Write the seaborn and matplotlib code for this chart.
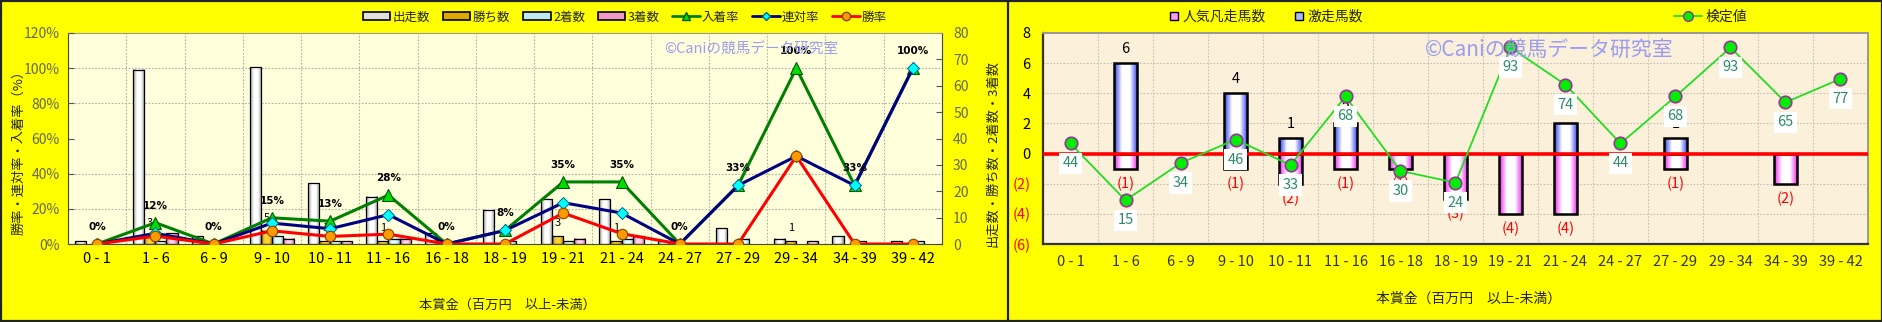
import numpy as np
import pandas as pd
import matplotlib
matplotlib.use("Agg")
import matplotlib.pyplot as plt
import seaborn as sns
from matplotlib.colors import LinearSegmentedColormap
from matplotlib.patches import Patch, Rectangle
from matplotlib.lines import Line2D

# ---------------- data ----------------
categories = ["0 - 1", "1 - 6", "6 - 9", "9 - 10", "10 - 11", "11 - 16", "16 - 18",
              "18 - 19", "19 - 21", "21 - 24", "24 - 27", "27 - 29", "29 - 34",
              "34 - 39", "39 - 42"]
starts = [1, 66, 3, 67, 23, 18, 4, 13, 17, 17, 1, 6, 2, 3, 1]
wins = [0, 3, 0, 5, 1, 1, 0, 0, 3, 1, 0, 0, 1, 0, 0]
seconds = [0, 1, 0, 3, 1, 2, 0, 1, 1, 2, 0, 2, 0, 1, 1]
thirds = [0, 4, 0, 2, 1, 2, 0, 0, 2, 3, 0, 0, 1, 0, 0]
win_rate = [0, 4.5, 0, 7.5, 4.3, 5.6, 0, 0, 17.6, 5.9, 0, 0, 50, 0, 0]
quinella_rate = [0, 6.1, 0, 11.9, 8.7, 16.7, 0, 7.7, 23.5, 17.6, 0, 33.3, 50, 33.3, 100]
place_rate = [0, 12.1, 0, 14.9, 13.0, 27.8, 0, 7.7, 35.3, 35.3, 0, 33.3, 100, 33.3, 100]

surge_count = [0, 6, 0, 4, 1, 2, 0, 0, 0, 2, 0, 1, 0, 0, 0]
flop_count = [0, -1, 0, -1, -2, -1, -1, -3, -4, -4, 0, -1, 0, -2, 0]
test_value = [44, 15, 34, 46, 33, 68, 30, 24, 93, 74, 44, 68, 93, 65, 77]

series_names = ["出走数", "勝ち数", "2着数", "3着数"]
left_y_ticks = [0, 20, 40, 60, 80, 100, 120]
right_y_ticks = [0, 10, 20, 30, 40, 50, 60, 70, 80]
right_chart_ticks = [-6, -4, -2, 0, 2, 4, 6, 8]

# ---------------- style ----------------
sns.set_style("white")
plt.rcParams["font.family"] = ["Noto Sans CJK JP", "DejaVu Sans"]

W, H = 1883, 322
fig = plt.figure(figsize=(W / 100, H / 100), dpi=100)
fig.patch.set_facecolor("#FFFF00")
fig.patches.append(Rectangle((0.8 / W, 1.2 / H), (W - 2) / W, (H - 2.6) / H,
                             transform=fig.transFigure, fill=False,
                             edgecolor="#222222", lw=1.6))
fig.add_artist(Line2D([1008 / W, 1008 / W], [0, 1], transform=fig.transFigure,
                      color="#222222", lw=1.6))

bar_cols = {"出走数": ("#9a9a9a", "#ffffff"),
            "勝ち数": ("#a87800", "#ffd23a"),
            "2着数": ("#7fc4d4", "#eaffff"),
            "3着数": ("#d0609a", "#ffd6ec")}
legend_cols = {"出走数": "#e0e0e0", "勝ち数": "#e0a800",
               "2着数": "#bfe8f0", "3着数": "#ee99c8"}


def gradient_bars(ax, container, edge, center, lw):
    cmap = LinearSegmentedColormap.from_list("g", [edge, center, center, edge])
    grad = np.linspace(0, 1, 64).reshape(1, -1)
    for p in container.patches:
        h = p.get_height()
        if abs(h) < 1e-9:
            p.set_visible(False)
            continue
        x, y, w = p.get_x(), p.get_y(), p.get_width()
        ax.imshow(grad, cmap=cmap, extent=(x, x + w, min(y, y + h), max(y, y + h)),
                  aspect="auto", interpolation="bilinear", zorder=p.get_zorder() - 0.01)
        p.set_facecolor("none")
        p.set_edgecolor("black")
        p.set_linewidth(lw)


# ================= LEFT CHART =================
axL = fig.add_axes([68 / W, 1 - 244 / H, (942 - 68) / W, (244 - 33) / H])
axL.set_facecolor("#FFFFDC")
df = pd.DataFrame({
    "cat": categories * 4,
    "series": sum([[s] * len(categories) for s in series_names], []),
    "value": starts + wins + seconds + thirds,
})
sns.barplot(data=df, x="cat", y="value", hue="series", order=categories,
            hue_order=series_names, palette={k: v[1] for k, v in bar_cols.items()},
            width=0.76, edgecolor="black", linewidth=0.9, errorbar=None,
            legend=False, ax=axL)
for cont, name in zip(axL.containers, series_names):
    gradient_bars(axL, cont, bar_cols[name][0], bar_cols[name][1], 0.9)
    if name == "勝ち数":
        for p, v in zip(cont.patches, wins):
            if v > 0:
                axL.annotate(str(v), (p.get_x() + p.get_width() / 2, v),
                             xytext=(0, 13), textcoords="offset pixels",
                             ha="center", va="center", fontsize=8, color="black")

axL.set_xlim(-0.5, len(categories) - 0.5)
axL.set_ylim(0, 80)

ax2 = axL.twinx()
xpos = np.arange(len(categories))
sns.lineplot(x=xpos, y=place_rate, ax=ax2, color="#008000", lw=2.2, marker="^",
             markersize=9, markerfacecolor="#00DD00", markeredgecolor="#005500",
             markeredgewidth=0.8)
sns.lineplot(x=xpos, y=quinella_rate, ax=ax2, color="#000080", lw=2.2, marker="D",
             markersize=6, markerfacecolor="#00FFFF", markeredgecolor="#006688",
             markeredgewidth=0.7)
sns.lineplot(x=xpos, y=win_rate, ax=ax2, color="#FF0000", lw=2.2, marker="o",
             markersize=7.5, markerfacecolor="#FF9900", markeredgecolor="#884400",
             markeredgewidth=0.8)
for i, v in enumerate(place_rate):
    ax2.annotate(f"{round(v)}%", (i, v), xytext=(0, 17), textcoords="offset pixels",
                 ha="center", va="center", fontsize=7.5, fontweight="bold",
                 color="black", family=["DejaVu Sans"])
ax2.set_ylim(0, 120)
ax2.set_xlim(-0.5, len(categories) - 0.5)

# axes sides
ax2.yaxis.tick_left()
ax2.yaxis.set_label_position("left")
axL.yaxis.tick_right()
axL.yaxis.set_label_position("right")
ax2.set_yticks(left_y_ticks)
ax2.set_yticklabels([f"{t}%" for t in left_y_ticks])
axL.set_yticks(right_y_ticks)
ax2.tick_params(axis="y", labelsize=10, labelcolor="#666655", direction="in",
                length=4, color="#555555", pad=6)
axL.tick_params(axis="y", labelsize=10, labelcolor="#666655", direction="in",
                length=4, color="#555555", pad=8)
axL.set_xticks(xpos)
axL.set_xticklabels(categories)
axL.tick_params(axis="x", labelsize=10.5, length=0, pad=6, labelcolor="black")
axL.set_xlabel("")
ax2.set_xlabel("")
ax2.set_ylabel("勝率・連対率・入着率（%）", fontsize=9.5)
ax2.yaxis.set_label_coords((25 - 68) / 874, 0.45)
axL.set_ylabel("出走数・勝ち数・2着数・3着数", fontsize=9.5)
axL.yaxis.set_label_coords((986 - 68) / 874, 0.43)

# grid (behind bars)
axL.set_xticks(np.arange(-0.5, len(categories), 1), minor=True)
axL.set_yticks([t * 80 / 120 for t in left_y_ticks[1:-1]], minor=True)
axL.tick_params(which="minor", length=0)
axL.grid(which="minor", color="#B0B0A0", linestyle=(0, (1.5, 1.5)), lw=0.8)
axL.grid(which="major", visible=False)
axL.set_axisbelow(True)
for s in ["left", "bottom", "right"]:
    axL.spines[s].set_color("#444444")
axL.spines["top"].set_color("#999999")
for s in ax2.spines.values():
    s.set_visible(False)

fig.text(507 / W, 1 - 305 / H, "本賞金（百万円　以上-未満）", ha="center", va="center",
         fontsize=9.5)
fig.text(751 / W, 1 - 50 / H, "©Caniの競馬データ研究室", ha="center", va="center",
         fontsize=10.5, color="#9C9CF0")

hL = [Patch(facecolor=legend_cols[n], edgecolor="black", lw=1.2) for n in series_names]
hL += [
    Line2D([], [], color="#008000", lw=2, marker="^", markersize=6,
           markerfacecolor="#00DD00", markeredgecolor="#005500"),
    Line2D([], [], color="#000080", lw=2, marker="D", markersize=4.5,
           markerfacecolor="#00FFFF", markeredgecolor="#006688"),
    Line2D([], [], color="#FF0000", lw=2, marker="o", markersize=6,
           markerfacecolor="#FF9900", markeredgecolor="#884400"),
]
fig.legend(handles=hL, labels=series_names + ["入着率", "連対率", "勝率"],
           loc="center left", bbox_to_anchor=(363 / W, 1 - 17 / H), ncol=7,
           frameon=False, fontsize=9, handlelength=2.2, handleheight=0.55,
           handletextpad=0.2, columnspacing=1.0, borderpad=0, borderaxespad=0)

# ================= RIGHT CHART =================
axR = fig.add_axes([1043 / W, 1 - 244 / H, (1868 - 1043) / W, (244 - 33) / H])
axR.set_facecolor("#FBF0DA")
sns.barplot(x=categories, y=surge_count, ax=axR, color="#aab0ff", width=0.42,
            edgecolor="black", linewidth=1.8, errorbar=None)
sns.barplot(x=categories, y=flop_count, ax=axR, color="#ffaaff", width=0.42,
            edgecolor="black", linewidth=1.8, errorbar=None)
gradient_bars(axR, axR.containers[0], "#2a3cf0", "#ffffff", 1.8)
gradient_bars(axR, axR.containers[1], "#f020f0", "#ffffff", 1.8)
for i, v in enumerate(surge_count):
    if v > 0:
        axR.annotate(str(v), (i, v), xytext=(0, 14), textcoords="offset pixels",
                     ha="center", va="center", fontsize=10.5, color="black")
for i, v in enumerate(flop_count):
    if v < 0:
        axR.annotate(f"({-v})", (i, v), xytext=(0, -15), textcoords="offset pixels",
                     ha="center", va="center", fontsize=10.5, color="#FF0000")
axR.axhline(0, color="#FF0000", lw=2.6, zorder=3)
axR.set_xlim(-0.5, len(categories) - 0.5)
axR.set_ylim(-6, 8)
axR.set_yticks(right_chart_ticks)
axR.set_yticklabels([str(t) if t >= 0 else f"({-t})" for t in right_chart_ticks])
for lab, t in zip(axR.get_yticklabels(), right_chart_ticks):
    lab.set_color("#FF0000" if t < 0 else "black")
axR.tick_params(axis="y", labelsize=10.5, length=0, pad=9)
axR.set_xticks(xpos)
axR.set_xticklabels(categories)
axR.tick_params(axis="x", labelsize=10.5, length=0, pad=8, labelcolor="#333333")
axR.set_xlabel("")
axR.set_ylabel("")
axR.set_xticks(np.arange(-0.5, len(categories), 1), minor=True)
axR.tick_params(which="minor", length=0)
axR.grid(which="minor", axis="x", color="#C8C0B0", linestyle=(0, (1.5, 1.5)), lw=0.8)
axR.grid(which="major", axis="y", color="#C8C0B0", linestyle=(0, (1.5, 1.5)), lw=0.8)
axR.grid(which="major", axis="x", visible=False)
axR.set_axisbelow(True)
axR.spines["left"].set_color("#333333")
axR.spines["bottom"].set_color("#333333")
axR.spines["left"].set_linewidth(1.6)
axR.spines["bottom"].set_linewidth(1.6)
axR.spines["top"].set_color("#999999")
axR.spines["right"].set_color("#999999")
axR.spines["top"].set_linewidth(1.4)
axR.spines["right"].set_linewidth(1.4)

ax3 = axR.twinx()
sns.lineplot(x=xpos, y=test_value, ax=ax3, color="#22DD22", lw=1.3, marker="o",
             markersize=9, markerfacecolor="#00EE00", markeredgecolor="#993399",
             markeredgewidth=1.2)
for i, v in enumerate(test_value):
    ax3.annotate(str(v), (i, v), xytext=(0, -20), textcoords="offset pixels",
                 ha="center", va="center", fontsize=10.5, color="#2E8B66",
                 bbox=dict(boxstyle="square,pad=0.25", fc="white", ec="none"))
ax3.set_ylim(-7.3, 100.4)
ax3.set_xlim(-0.5, len(categories) - 0.5)
ax3.set_yticks([])
ax3.set_ylabel("")
for s in ax3.spines.values():
    s.set_visible(False)

fig.text(1469 / W, 1 - 299 / H, "本賞金（百万円　以上-未満）", ha="center", va="center",
         fontsize=10)
fig.text(1549 / W, 1 - 50 / H, "©Caniの競馬データ研究室", ha="center", va="center",
         fontsize=15, color="#9C9CF0")

fig.legend(handles=[Line2D([], [], marker="s", ls="none", markersize=6,
                           markerfacecolor="#FF99FF", markeredgecolor="black")],
           labels=["人気凡走馬数"], loc="center left",
           bbox_to_anchor=(1170 / W, 1 - 17 / H), frameon=False, fontsize=10,
           handlelength=0.6, handletextpad=0.3, borderpad=0, borderaxespad=0)
fig.legend(handles=[Line2D([], [], marker="s", ls="none", markersize=6,
                           markerfacecolor="#AABBFF", markeredgecolor="black")],
           labels=["激走馬数"], loc="center left",
           bbox_to_anchor=(1295 / W, 1 - 17 / H), frameon=False, fontsize=10,
           handlelength=0.6, handletextpad=0.3, borderpad=0, borderaxespad=0)
fig.legend(handles=[Line2D([], [], color="#22DD22", lw=1.3, marker="o", markersize=7,
                           markerfacecolor="#00EE00", markeredgecolor="#993399")],
           labels=["検定値"], loc="center left",
           bbox_to_anchor=(1674 / W, 1 - 17 / H), frameon=False, fontsize=10,
           handlelength=2.0, handletextpad=0.3, borderpad=0, borderaxespad=0)

fig.savefig("out.png", dpi=100, facecolor=fig.get_facecolor())
